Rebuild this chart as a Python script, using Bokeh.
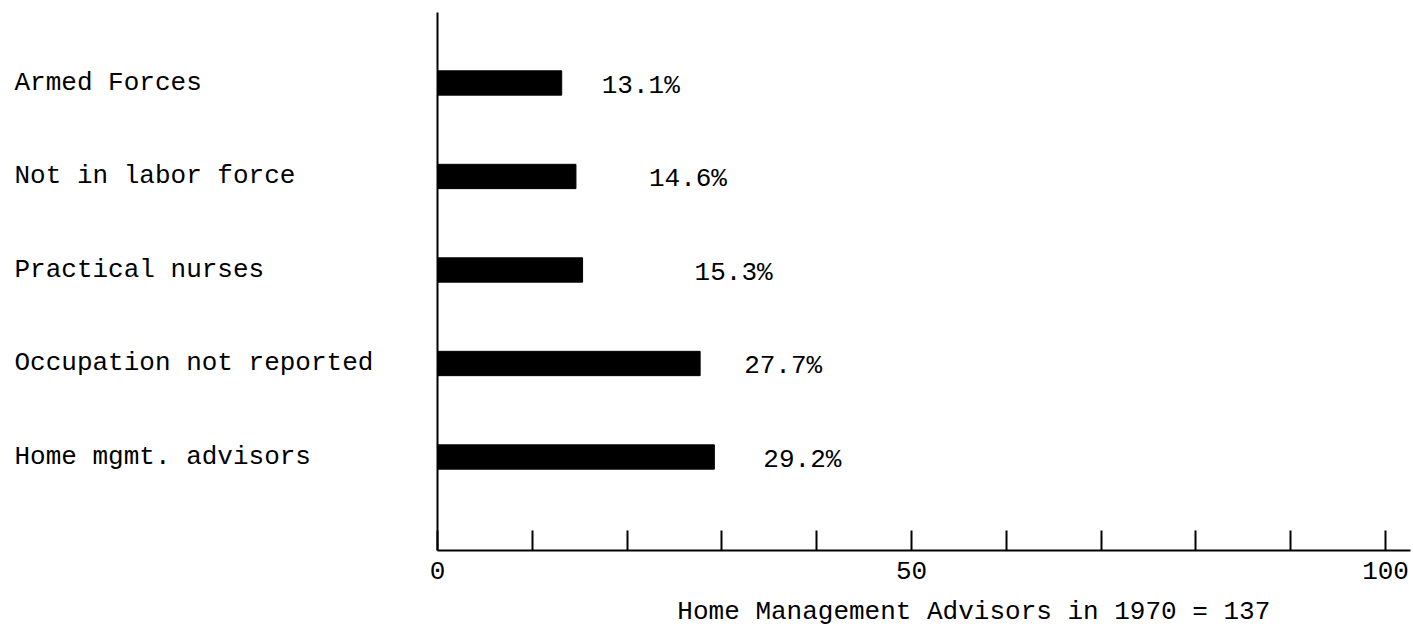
from bokeh.plotting import figure
from bokeh.models import Range1d, FixedTicker, ColumnDataSource, Label
from bokeh.core.properties import value
from bokeh.embed import file_html
from bokeh.resources import INLINE

# ---- data ----
categories = ["Armed Forces", "Not in labor force", "Practical nurses",
              "Occupation not reported", "Home mgmt. advisors"]
percentages = [13.1, 14.6, 15.3, 27.7, 29.2]
x_ticks = list(range(0, 101, 10))
x_tick_labels = {0: "0", 50: "50", 100: "100"}
axis_title = "Home Management Advisors in 1970 = 137"

# ---- layout / style ----
FONT = "Liberation Mono"
FONT_SIZE = "26px"
label_gap_px = [40, 73, 112, 44, 49]   # gap between bar end and its value label
X_START, X_END = -46.1, 102.95
Y_START, Y_END = -0.834, 5.882

n = len(categories)
ypos = [n - i for i in range(n)]

src = ColumnDataSource(dict(
    cat=categories,
    y=ypos,
    val=percentages,
    lab=[f"{v}%" for v in percentages],
    gap=label_gap_px,
    xstart=[X_START] * n,
))

p = figure(width=1413, height=628,
           x_range=Range1d(X_START, X_END), y_range=Range1d(Y_START, Y_END),
           output_backend="svg", toolbar_location=None,
           min_border=0)
p.outline_line_color = None
p.xgrid.visible = False
p.ygrid.visible = False
p.background_fill_color = "white"
p.border_fill_color = "white"

# bars
p.hbar(y="y", left=0, right="val", height=0.26, source=src,
       fill_color="black", line_color="black")

# value labels
p.text(x="val", y="y", text="lab", x_offset="gap", y_offset=3, source=src,
       text_font=value(FONT), text_font_size=FONT_SIZE,
       text_baseline="middle", text_align="left", text_color="black")

# category labels (left-aligned at left edge)
p.text(x="xstart", y="y", text="cat", x_offset=14, source=src,
       text_font=value(FONT), text_font_size=FONT_SIZE,
       text_baseline="middle", text_align="left", text_color="black")

# x axis, drawn at y = 0
xa = p.xaxis[0]
xa.fixed_location = 0
xa.ticker = FixedTicker(ticks=x_ticks)
xa.major_label_overrides = {t: x_tick_labels.get(t, "") for t in x_ticks}
xa.bounds = (0, 102.6)
xa.axis_line_width = 2
xa.axis_line_color = "black"
xa.major_tick_in = 20
xa.major_tick_out = 0
xa.major_tick_line_width = 2
xa.major_tick_line_color = "black"
xa.minor_tick_line_color = None
xa.major_label_text_font = FONT
xa.major_label_text_font_size = FONT_SIZE
xa.major_label_text_color = "black"
xa.major_label_standoff = 11

# y axis drawn as the vertical line at x = 0
ya = p.yaxis[0]
ya.fixed_location = 0
ya.ticker = FixedTicker(ticks=[])
ya.bounds = (0, Y_END - 0.13)
ya.axis_line_width = 2
ya.axis_line_color = "black"
ya.major_tick_in = 0
ya.major_tick_out = 0
ya.minor_tick_line_color = None
ya.major_label_text_font_size = "0px"
ya.major_label_standoff = 0

# axis title below the axis
p.add_layout(Label(x=25.3, y=-0.66, text=axis_title,
                   text_font=FONT, text_font_size=FONT_SIZE,
                   text_align="left", text_baseline="alphabetic",
                   text_color="black"))

open("out.html", "w").write(file_html(p, INLINE))
